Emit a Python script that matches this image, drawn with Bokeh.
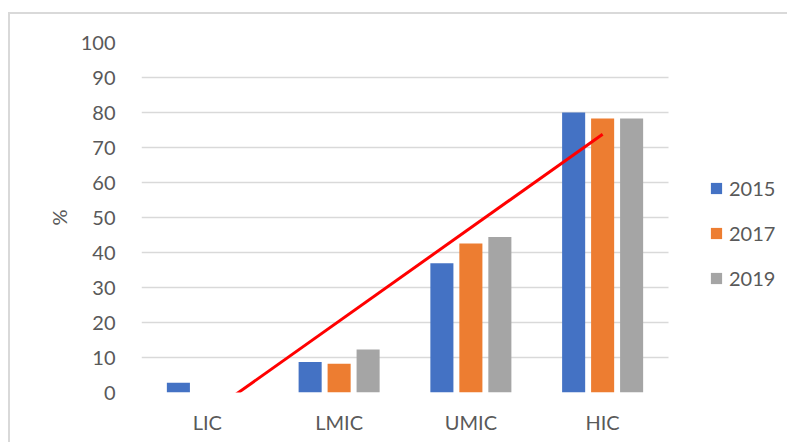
import numpy as np
from bokeh.plotting import figure
from bokeh.models import ColumnDataSource, Range1d, Legend, LegendItem, FixedTicker
from bokeh.embed import file_html
from bokeh.resources import INLINE

categories = ["LIC", "LMIC", "UMIC", "HIC"]
years = ["2015", "2017", "2019"]
v2015 = [2.8, 8.7, 36.9, 80.0]
v2017 = [0.0, 8.2, 42.6, 78.3]
v2019 = [0.0, 12.3, 44.4, 78.3]
colors = ["#4472C4", "#ED7D31", "#A5A5A5"]

xpos = np.arange(len(categories)) + 0.5
src = ColumnDataSource(dict(x=xpos, y2015=v2015, y2017=v2017, y2019=v2019))

FONT = "Lato"
TXT = "#595959"
FS = "20px"
NCAT = len(categories)
X_END = NCAT * 644 / 527.0  # extra room on the right for the legend

p = figure(x_range=Range1d(0, X_END), y_range=Range1d(0, 100),
           width=779, height=430, output_backend="svg", toolbar_location=None,
           min_border_left=131, min_border_right=4, min_border_top=28, min_border_bottom=52)
p.styles = {"margin": "12px 0 0 8px", "border-top": "2px solid #d9d9d9", "border-left": "2px solid #d9d9d9"}
p.outline_line_color = None
p.background_fill_color = "white"

renderers = []
offsets = [-0.22, 0.0, 0.22]
for yr, col, off in zip(years, colors, offsets):
    src.data["x" + yr] = xpos + off
    r = p.vbar(x="x" + yr, top="y" + yr, width=0.175,
               source=src, fill_color=col, line_color=None)
    renderers.append(r)

# linear trendline of 2019 series
slope, intercept = np.polyfit(xpos, v2019, 1)
p.line(x=[xpos[0], xpos[-1]], y=[slope * xpos[0] + intercept, slope * xpos[-1] + intercept],
       line_color="#FF0000", line_width=3)

p.xgrid.grid_line_color = None
p.ygrid.grid_line_color = "#d9d9d9"
p.ygrid.grid_line_width = 1.5
p.ygrid.cross_bounds = (0, NCAT)
p.yaxis.ticker = FixedTicker(ticks=list(range(0, 101, 10)))
p.yaxis.axis_line_color = None
p.yaxis.major_tick_line_color = None
p.yaxis.minor_tick_line_color = None
p.yaxis.major_label_standoff = 20
p.yaxis.major_label_text_font = FONT
p.yaxis.major_label_text_font_size = FS
p.yaxis.major_label_text_color = TXT
p.yaxis.axis_label = "%"
p.yaxis.axis_label_text_font = FONT
p.yaxis.axis_label_text_font_size = FS
p.yaxis.axis_label_text_font_style = "normal"
p.yaxis.axis_label_text_color = TXT
p.yaxis.axis_label_standoff = 7

p.xaxis.ticker = FixedTicker(ticks=list(xpos))
p.xaxis.major_label_overrides = {float(x): c for x, c in zip(xpos, categories)}
p.xaxis.axis_line_color = None
p.xaxis.major_tick_line_color = None
p.xaxis.minor_tick_line_color = None
p.xaxis.major_label_standoff = 11
p.xaxis.major_label_text_font = FONT
p.xaxis.major_label_text_font_size = FS
p.xaxis.major_label_text_color = TXT

legend = Legend(items=[LegendItem(label=yr, renderers=[r]) for yr, r in zip(years, renderers)],
                location=(568, 102), orientation="vertical",
                glyph_width=14, glyph_height=14, label_standoff=6,
                label_text_font=FONT, label_text_font_size=FS, label_text_color=TXT,
                spacing=21, padding=0, margin=0, border_line_color=None,
                background_fill_alpha=0, label_height=20)
p.add_layout(legend, "center")

open("out.html", "w").write(file_html(p, INLINE))
